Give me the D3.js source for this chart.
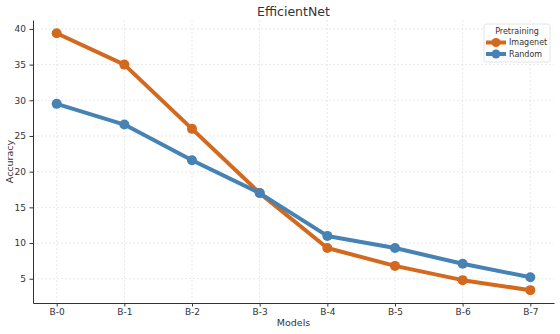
<!DOCTYPE html>
<html>
<head>
<meta charset="utf-8">
<script src="https://cdn.jsdelivr.net/npm/d3@7"></script>
<style>
  body { margin: 0; background: #fff; }
  svg { font-family: "DejaVu Sans", sans-serif; }
</style>
</head>
<body>
<svg id="drawing_region"></svg>
<script>
// data
const models = ["B-0", "B-1", "B-2", "B-3", "B-4", "B-5", "B-6", "B-7"];
const imagenet = [39.4, 35.0, 26.0, 17.0, 9.3, 6.8, 4.8, 3.4];
const random = [29.5, 26.6, 21.6, 17.0, 11.0, 9.3, 7.1, 5.2];
const yticks = [5, 10, 15, 20, 25, 30, 35, 40];
const seriesNames = ["Imagenet", "Random"];
const seriesColors = ["#d2691e", "#4682b4"];

const width = 560, height = 334;
const margin = { top: 20, right: 6, bottom: 31, left: 33 };
const inner_width = width - margin.left - margin.right;
const inner_height = height - margin.top - margin.bottom;

const svg = d3.select('#drawing_region')
  .attr('width', width)
  .attr('height', height);

const chart = svg.append('g')
  .attr('transform', `translate(${margin.left}, ${margin.top})`);

// scales (matplotlib style 5% margins)
const xscale = d3.scalePoint().domain(models).range([0, inner_width]).padding(0.35);
const yscale = d3.scaleLinear().domain([1.6, 41.25]).range([inner_height, 0]);

// grid
chart.append('g')
  .selectAll('line')
  .data(models)
  .join('line')
  .attr('x1', d => xscale(d)).attr('x2', d => xscale(d))
  .attr('y1', 0).attr('y2', inner_height)
  .attr('stroke', '#e0e0e0').attr('stroke-width', 0.7)
  .attr('stroke-dasharray', '2,2');

chart.append('g')
  .selectAll('line')
  .data(yticks)
  .join('line')
  .attr('x1', 0).attr('x2', inner_width)
  .attr('y1', d => yscale(d)).attr('y2', d => yscale(d))
  .attr('stroke', '#e0e0e0').attr('stroke-width', 0.7)
  .attr('stroke-dasharray', '2,2');

// axes
const xaxis = d3.axisBottom(xscale).tickSize(3.5).tickPadding(2.5).tickSizeOuter(0);
const yaxis = d3.axisLeft(yscale).tickValues(yticks).tickSize(3.5).tickPadding(3.5).tickSizeOuter(0);

const xg = chart.append('g')
  .attr('transform', `translate(0, ${inner_height})`)
  .call(xaxis);
const yg = chart.append('g').call(yaxis);

[xg, yg].forEach(g => {
  g.select('.domain').attr('stroke', '#333').attr('stroke-width', 1);
  g.selectAll('.tick line').attr('stroke', '#333');
  g.selectAll('.tick text').attr('fill', '#333').style('font-size', '9px')
    .style('font-family', '"DejaVu Sans", sans-serif');
});

// lines + points
const series = [imagenet, random];
const line = d3.line().x((d, i) => xscale(models[i])).y(d => yscale(d));

series.forEach((vals, k) => {
  chart.append('path')
    .datum(vals)
    .attr('d', line)
    .attr('fill', 'none')
    .attr('stroke', seriesColors[k])
    .attr('stroke-width', 4)
    .attr('stroke-linejoin', 'round');
  chart.append('g')
    .selectAll('circle')
    .data(vals)
    .join('circle')
    .attr('cx', (d, i) => xscale(models[i]))
    .attr('cy', d => yscale(d))
    .attr('r', 5)
    .attr('fill', seriesColors[k]);
});

// title and labels
svg.append('text')
  .attr('x', margin.left + inner_width / 2).attr('y', 16)
  .attr('text-anchor', 'middle')
  .attr('fill', '#333')
  .style('font-size', '12.5px')
  .text('EfficientNet');

svg.append('text')
  .attr('x', margin.left + inner_width / 2).attr('y', 326)
  .attr('text-anchor', 'middle')
  .attr('fill', '#333')
  .style('font-size', '9.5px')
  .text('Models');

svg.append('text')
  .attr('transform', `translate(13, ${margin.top + inner_height / 2}) rotate(-90)`)
  .attr('text-anchor', 'middle')
  .attr('fill', '#333')
  .style('font-size', '9.5px')
  .text('Accuracy');

// legend
const legend = svg.append('g').attr('transform', 'translate(484, 24)');
legend.append('rect')
  .attr('width', 66).attr('height', 38)
  .attr('rx', 2)
  .attr('fill', 'rgba(255,255,255,0.85)')
  .attr('stroke', '#dddddd').attr('stroke-width', 0.8);
legend.append('text')
  .attr('x', 33).attr('y', 10)
  .attr('text-anchor', 'middle')
  .attr('fill', '#333')
  .style('font-size', '8px')
  .text('Pretraining');

seriesNames.forEach((name, k) => {
  const yy = 18.5 + k * 11.5;
  legend.append('line')
    .attr('x1', 2).attr('x2', 22)
    .attr('y1', yy).attr('y2', yy)
    .attr('stroke', seriesColors[k]).attr('stroke-width', 4);
  legend.append('circle')
    .attr('cx', 12).attr('cy', yy).attr('r', 4.5)
    .attr('fill', seriesColors[k]);
  legend.append('text')
    .attr('x', 25).attr('y', yy + 2.8)
    .attr('fill', '#333')
    .style('font-size', '8px')
    .text(name);
});
</script>
</body>
</html>
